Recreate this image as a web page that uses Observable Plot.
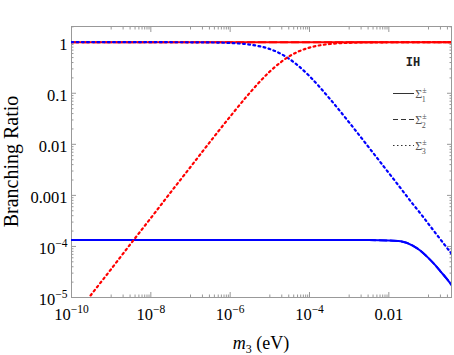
<!DOCTYPE html>
<html><head><meta charset="utf-8">
<script src="https://cdn.jsdelivr.net/npm/d3@7"></script>
<script src="https://cdn.jsdelivr.net/npm/@observablehq/plot@0.6"></script>
<style>body{margin:0;background:#fff}svg{display:block}</style>
</head><body><div id="chart"></div>
<script>
// m3 grid (eV)
const massEV = [1e-10, 3.2e-10, 1e-9, 3.2e-9, 1e-8, 3.2e-8, 1e-7, 3.2e-7, 1e-6, 3.2e-6, 1e-5, 2e-5, 3.2e-5, 5e-5, 1e-4, 3.2e-4, 1e-3, 3.2e-3, 0.01, 0.02, 0.04, 0.063, 0.1, 0.14, 0.2, 0.28, 0.38];
// branching ratios
const redSigma1 = [1,1,1,1,1,1,1,1,1,1,1,1,1,1,1,1,1,1,1,1,1,1,1,1,1,1,1];
const redSigma2 = [1,1,1,1,1,1,1,1,1,1,1,1,1,1,1,1,1,1,1,1,1,1,1,1,1,1,1];
const blueSigma1 = [1.33e-4,1.33e-4,1.33e-4,1.33e-4,1.33e-4,1.33e-4,1.33e-4,1.33e-4,1.33e-4,1.33e-4,1.33e-4,1.33e-4,1.33e-4,1.33e-4,1.33e-4,1.33e-4,1.33e-4,1.33e-4,1.31e-4,1.26e-4,1.04e-4,8.2e-5,5.9e-5,4.5e-5,3.25e-5,2.4e-5,1.76e-5];
const blueSigma2 = [1.33e-4,1.33e-4,1.33e-4,1.33e-4,1.33e-4,1.33e-4,1.33e-4,1.33e-4,1.33e-4,1.33e-4,1.33e-4,1.33e-4,1.33e-4,1.33e-4,1.33e-4,1.33e-4,1.33e-4,1.33e-4,1.31e-4,1.26e-4,1.04e-4,8.2e-5,5.9e-5,4.5e-5,3.25e-5,2.4e-5,1.76e-5];
const blueSigma3 = [1,1,1,1,1,0.999,0.996,0.989,0.965,0.896,0.733,0.58,0.462,0.355,0.216,0.079,0.0268,0.0085,0.00274,0.00137,6.8e-4,4.4e-4,2.75e-4,1.96e-4,1.37e-4,9.8e-5,7.2e-5];
const redSigma3 = [3.6e-6,1.16e-5,3.6e-5,1.16e-4,3.6e-4,1.16e-3,3.6e-3,0.0115,0.035,0.104,0.267,0.42,0.538,0.645,0.784,0.921,0.973,0.991,0.997,0.999,1,1,1,1,1,1,1];

const xMajor = [1e-10, 1e-8, 1e-6, 1e-4, 1e-2];
const xMajorLabels = ["10^−10", "10^−8", "10^−6", "10^−4", "0.01"];
const yMajor = [1, 0.1, 0.01, 0.001, 1e-4, 1e-5];
const yMajorLabels = ["1", "0.1", "0.01", "0.001", "10^−4", "10^−5"];
const xOddExponents = [-9, -7, -5, -3, -1];
const yExponents = [-5, -4, -3, -2, -1, 0];
const legendNames = ["1", "2", "3"];

const xDomain = [1e-10, 0.38];
const yDomain = [1e-5, 2.03];

const xMinor = xOddExponents.flatMap(e => [1,2,3,4,5,6,7,8,9].map(k => k * Math.pow(10, e))).filter(v => v >= xDomain[0] && v <= xDomain[1]);
const yMinor = yExponents.flatMap(e => [2,3,4,5,6,7,8,9].map(k => k * Math.pow(10, e))).filter(v => v >= yDomain[0] && v <= yDomain[1]);

const xLabelOf = new Map(xMajor.map((v, i) => [v, xMajorLabels[i]]));
const yLabelOf = new Map(yMajor.map((v, i) => [v, yMajorLabels[i]]));

const rows = arr => massEV.map((m, i) => ({m, v: arr[i]}));
const RED = "#ff0000", BLUE = "#0000ff";
const dash = "7,4", dot = "1.8,3.4";
const FR = "#999";

const lineOpts = (stroke, extra = {}) => ({x: "m", y: "v", stroke, strokeWidth: 2, curve: "monotone-x", clip: true, ...extra});

function tickAxes(vals, len) {
  return [
    Plot.axisX(vals, {anchor: "bottom", tickSize: len, dy: -len, tickFormat: () => "", stroke: FR, label: null}),
    Plot.axisX(vals, {anchor: "top", tickSize: len, dy: len, tickFormat: () => "", stroke: FR, label: null})
  ];
}
function tickAxesY(vals, len) {
  return [
    Plot.axisY(vals, {anchor: "left", tickSize: len, dx: len, tickFormat: () => "", stroke: FR, label: null}),
    Plot.axisY(vals, {anchor: "right", tickSize: len, dx: -len, tickFormat: () => "", stroke: FR, label: null})
  ];
}

const svg = Plot.plot({
  width: 454, height: 355,
  marginLeft: 71, marginRight: 3, marginTop: 26, marginBottom: 58,
  style: {fontFamily: "Liberation Serif", fontSize: "16.5px", color: "black", background: "white"},
  x: {type: "log", domain: xDomain},
  y: {type: "log", domain: yDomain},
  marks: [
    ...tickAxes(xMinor, 2.5), ...tickAxes(xMajor, 5),
    ...tickAxesY(yMinor, 2.5), ...tickAxesY(yMajor, 5),
    Plot.axisX(xMajor, {anchor: "bottom", tickSize: 0, tickPadding: 11, tickFormat: d => xLabelOf.get(d), fontSize: 16.5, label: null}),
    Plot.axisY(yMajor, {anchor: "left", tickSize: 0, tickPadding: 4, dy: 2.5, tickFormat: d => yLabelOf.get(d), fontSize: 16.5, label: null}),
    Plot.frame({stroke: FR}),
    Plot.line(rows(redSigma1), lineOpts(RED)),
    Plot.line(rows(redSigma2), lineOpts(RED, {strokeDasharray: dash})),
    Plot.line(rows(blueSigma1), lineOpts(BLUE)),
    Plot.line(rows(blueSigma2), lineOpts(BLUE, {strokeDasharray: dash})),
    Plot.line(rows(blueSigma3), lineOpts(BLUE, {strokeDasharray: dot, strokeWidth: 2.2})),
    Plot.line(rows(redSigma3), lineOpts(RED, {strokeDasharray: dot, strokeWidth: 2.2}))
  ]
});

// superscript exponents in tick labels
svg.querySelectorAll("text").forEach(t => {
  const m = /^10\^(.+)$/.exec(t.textContent);
  if (!m) return;
  t.textContent = "";
  const ns = "http://www.w3.org/2000/svg";
  const a = document.createElementNS(ns, "tspan"); a.textContent = "10"; t.appendChild(a);
  const b = document.createElementNS(ns, "tspan"); b.textContent = m[1];
  b.setAttribute("dy", "-7"); b.setAttribute("font-size", "11.5px"); t.appendChild(b);
});

const s = d3.select(svg);
// axis titles
s.append("text").attr("transform", "translate(17.5,161.5) rotate(-90)")
  .attr("text-anchor", "middle").attr("font-size", "20px").attr("fill", "black").text("Branching Ratio");
const xl = s.append("text").attr("x", 261).attr("y", 349).attr("text-anchor", "middle").attr("font-size", "18px").attr("fill", "black");
xl.append("tspan").attr("font-style", "italic").text("m");
xl.append("tspan").attr("font-size", "12px").attr("dy", 4).text("3");
xl.append("tspan").attr("dy", -4).text(" (eV)");

// legend
s.append("text").attr("x", 413).attr("y", 66).attr("text-anchor", "middle")
  .attr("font-family", "Liberation Mono").attr("font-weight", "bold").attr("font-size", "12px").attr("fill", "#222").text("IH");
const styles = [null, "5,3", "1.5,2.5"];
legendNames.forEach((n, i) => {
  const y = 93.5 + i * 26;
  s.append("line").attr("x1", 393).attr("x2", 414).attr("y1", y).attr("y2", y)
    .attr("stroke", "#333").attr("stroke-width", 1).attr("stroke-dasharray", styles[i]);
  const t = s.append("text").attr("x", 421).attr("y", y + 4).attr("font-size", "12px").attr("fill", "#555");
  t.append("tspan").text("Σ");
  t.append("tspan").attr("font-size", "8px").attr("dy", -5).text("±");
  t.append("tspan").attr("font-size", "8px").attr("dx", -5).attr("dy", 9).text(n);
});

document.getElementById("chart").appendChild(svg);
</script>
</body></html>
